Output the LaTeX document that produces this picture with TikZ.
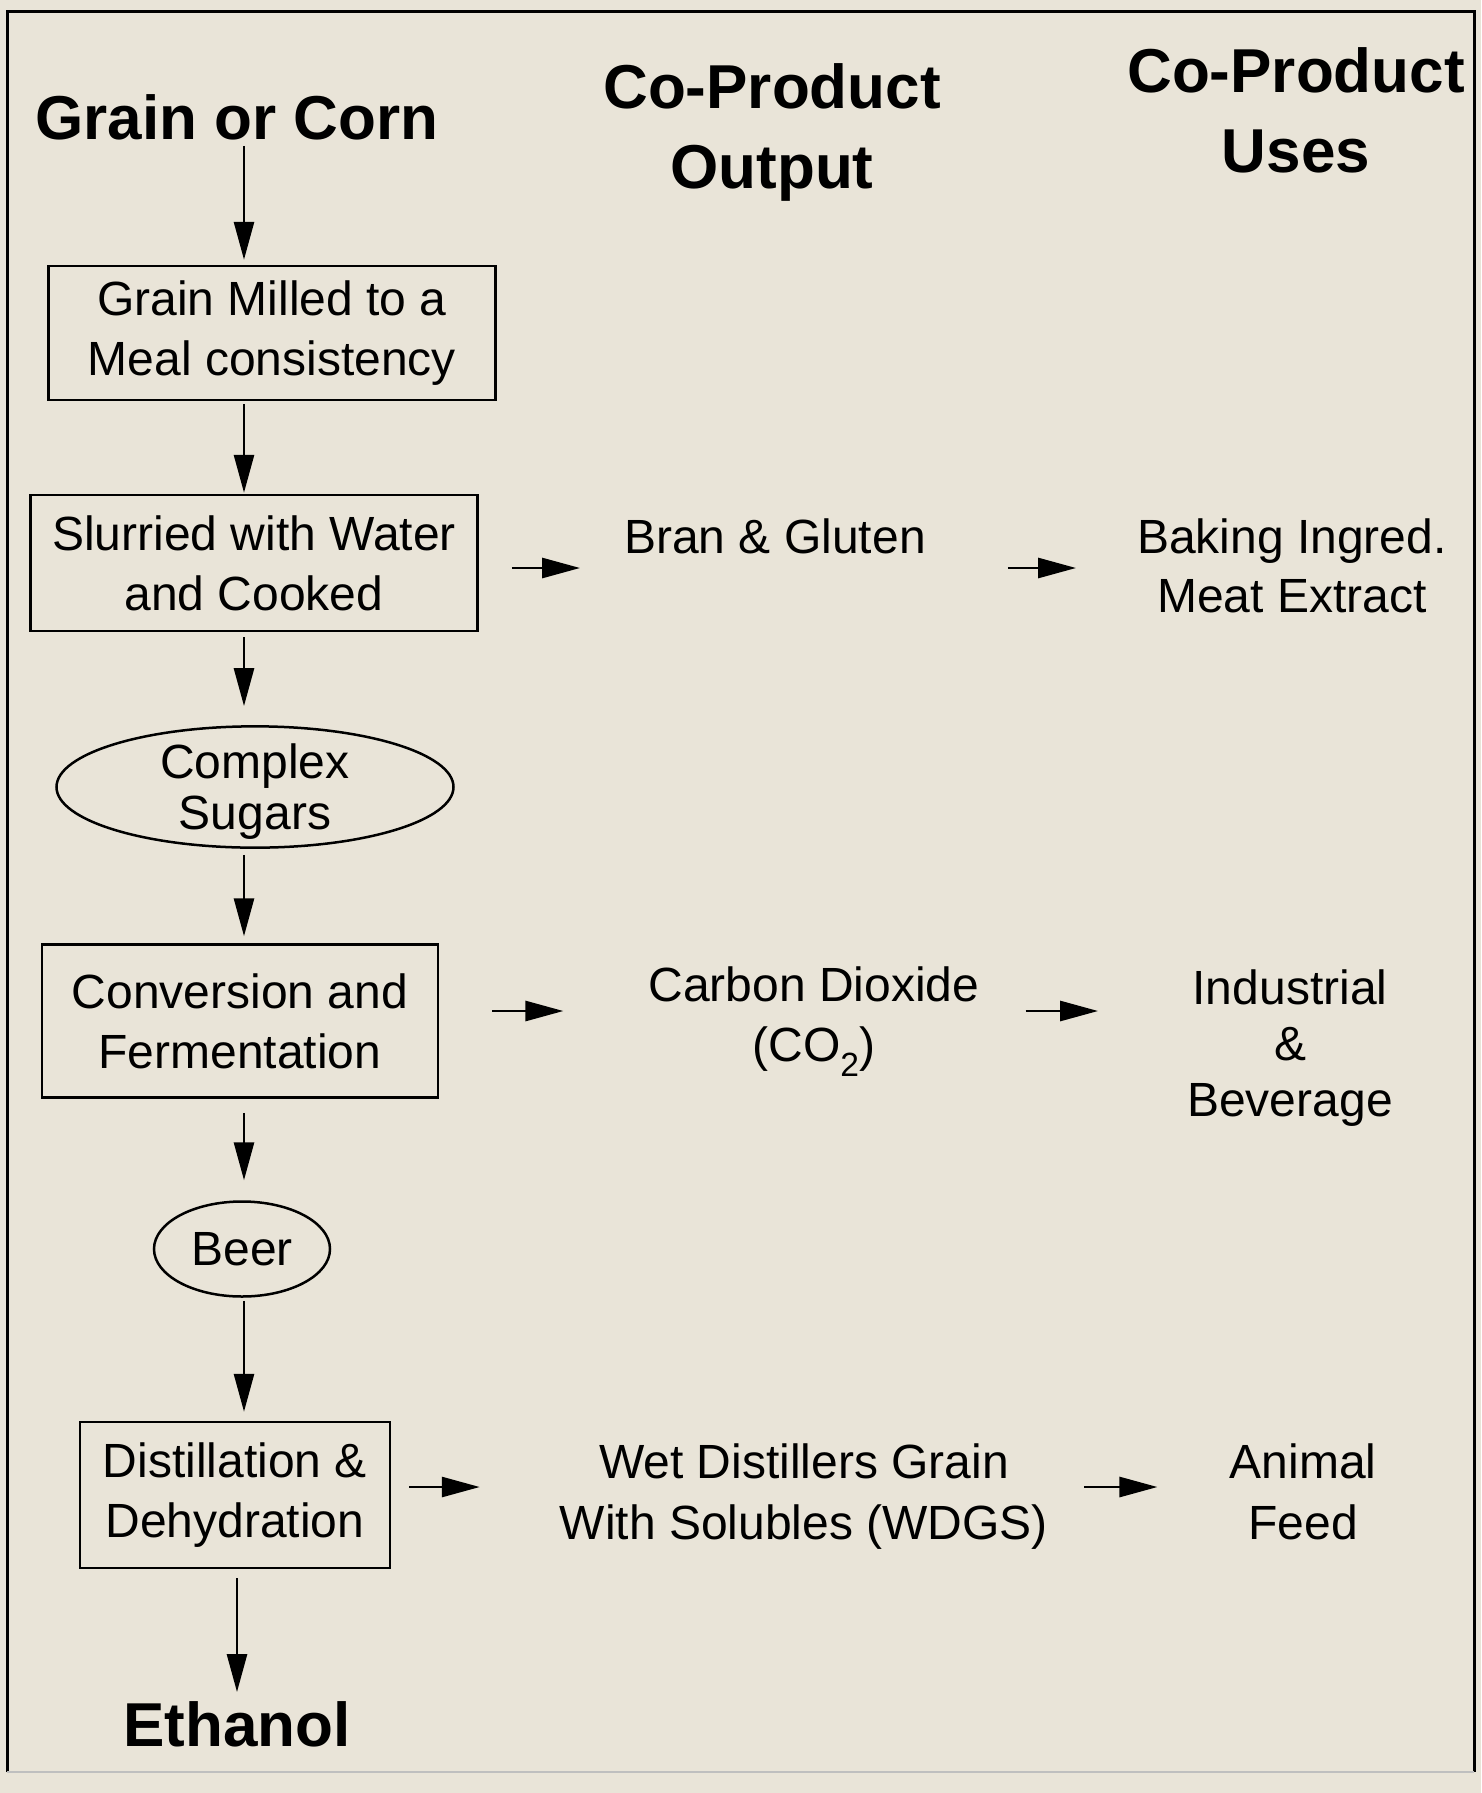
\documentclass[tikz,border=0pt]{standalone}
\usepackage{fontspec}
\setmainfont{Liberation Sans}
\usetikzlibrary{shapes.geometric,arrows.meta}
\definecolor{paper}{RGB}{233,228,216}

\begin{document}
\begin{tikzpicture}[x=1pt,y=-1pt,
  txt/.style={font=\fontsize{48}{60}\selectfont, align=center, inner sep=0pt},
  head/.style={font=\bfseries\fontsize{62}{80}\selectfont, align=center, inner sep=0pt},
  stepbox/.style={txt, draw, line width=2.5pt},
  blob/.style={txt, ellipse, draw, line width=2.5pt},
  arr/.style={-{Triangle[length=38pt,width=20pt]}, line width=2.8pt}]
\fill[paper] (0,0) rectangle (1481,1793);
\draw[line width=3pt] (7,1772) -- (7,12) -- (1474,12) -- (1474,1772);
\draw[line width=2pt, gray!50] (7,1772) -- (1474,1772);

\node[head] (grain) at (237,117) {Grain or Corn};
\node[head] (output) at (772,132) {Co-Product\\Output};
\node[head] (uses) at (1296,110) {Co-Product\\Uses};

\node[stepbox, minimum width=447pt, minimum height=134pt] (mill) at (272,333) {Grain Milled to a\\Meal consistency};
\node[stepbox, minimum width=447pt, minimum height=136pt] (slurry) at (254,563) {Slurried with Water\\and Cooked};
\node[blob, font=\fontsize{48}{51}\selectfont, minimum width=397pt, minimum height=118pt] (sugars) at (255,787) {Complex\\\raisebox{0pt}[\height][0pt]{Sugars}};
\node[stepbox, minimum width=396pt, minimum height=153pt] (ferment) at (240,1021) {Conversion and\\Fermentation};
\node[blob, minimum width=176pt, minimum height=95pt] (beer) at (242,1249) {Beer};
\node[stepbox, minimum width=310pt, minimum height=146pt] (distil) at (235,1495) {Distillation \&\\Dehydration};
\node[head] (ethanol) at (237,1724) {Ethanol};

\node[txt] (bran) at (775,536) {Bran \& Gluten};
\node[txt, font=\fontsize{48}{59}\selectfont] (baking) at (1292,566) {Baking Ingred.\\Meat Extract};
\node[txt] (co2) at (814,1022) {Carbon Dioxide\\(CO\textsubscript{2})};
\node[txt, font=\fontsize{48}{56}\selectfont] (industry) at (1290,1048) {Industrial\\\&\\Beverage};
\node[txt, font=\fontsize{48}{61}\selectfont] (wdgs) at (804,1497) {Wet Distillers Grain\\With Solubles (WDGS)};
\node[txt, font=\fontsize{48}{61}\selectfont] (feed) at (1303,1492) {Animal\\Feed};

\coordinate (col) at (244,0);
\coordinate (col2) at (237,0);
\draw[arr, shorten <=6pt, shorten >=5pt] (grain.south -| col) -- (mill.north -| col);
\draw[arr, shorten <=3pt, shorten >=1pt] (mill.south -| col) -- (slurry.north -| col);
\draw[arr, shorten <=5pt, shorten >=19pt] (slurry.south -| col) -- (sugars.north -| col);
\draw[arr, shorten <=6pt, shorten >=7pt] (sugars.south -| col) -- (ferment.north -| col);
\draw[arr, shorten <=14pt, shorten >=20pt] (ferment.south -| col) -- (beer.north -| col);
\draw[arr, shorten <=3pt, shorten >=9pt] (beer.south -| col) -- (distil.north -| col);
\draw[arr, shorten <=9pt, shorten >=9pt] (distil.south -| col2) -- (ethanol.north -| col2);

\coordinate (r1) at (0,568);
\coordinate (r2) at (0,1011);
\coordinate (r3) at (0,1487);
\draw[arr, shorten <=33pt, shorten >=44pt] (slurry.east |- r1) -- (bran.west |- r1);
\draw[arr, shorten <=82pt, shorten >=61pt] (bran.east |- r1) -- (baking.west |- r1);
\draw[arr, shorten <=53pt, shorten >=85pt] (ferment.east |- r2) -- (co2.west |- r2);
\draw[arr, shorten <=46pt, shorten >=89pt] (co2.east |- r2) -- (industry.west |- r2);
\draw[arr, shorten <=18pt, shorten >=80pt] (distil.east |- r3) -- (wdgs.west |- r3);
\draw[arr, shorten <=36pt, shorten >=72pt] (wdgs.east |- r3) -- (feed.west |- r3);
\end{tikzpicture}
\end{document}
